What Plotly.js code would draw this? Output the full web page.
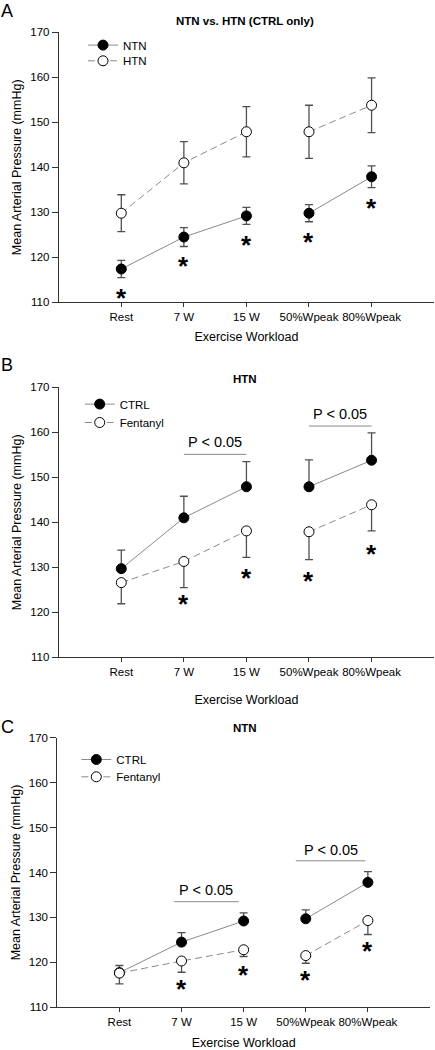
<!DOCTYPE html>
<html><head><meta charset="utf-8">
<script src="https://cdn.plot.ly/plotly-3.0.1.min.js"></script>
<style>html,body{margin:0;padding:0;background:#fff}#chart{width:435px;height:1050px}</style>
</head><body><div id="chart"></div>
<script>
// ---------- data ----------
const categories = ['Rest', '7 W', '15 W', '50%Wpeak', '80%Wpeak'];
const yTicks = [110, 120, 130, 140, 150, 160, 170];

// Panel A: NTN vs HTN (CTRL only)
const ntnCtrlA = [117.4, 124.5, 129.2, 129.8, 137.9];
const ntnCtrlAErr = [1.9, 2.1, 1.9, 1.9, 2.4];
const htnCtrlA = [129.8, 141.0, 147.9, 147.9, 153.8];
const htnCtrlAErr = [4.1, 4.7, 5.6, 5.9, 6.1];
const starsA = [112.4, 119.4, 124.0, 124.7, 132.4];

// Panel B: HTN, CTRL vs Fentanyl
const htnCtrlB = [129.7, 141.0, 147.9, 147.9, 153.8];
const htnCtrlBErr = [4.1, 4.8, 5.6, 6.0, 6.1];
const htnFentB = [126.6, 131.3, 138.1, 137.9, 143.9];
const htnFentBErr = [4.7, 5.8, 5.9, 6.2, 5.8];
const starsB = [null, 123.1, 129.0, 128.3, 134.4];
const sigB = [[1, 2, 155.1, 157.9], [3, 4, 161.4, 164.1]];

// Panel C: NTN, CTRL vs Fentanyl
const ntnCtrlC = [117.7, 124.5, 129.2, 129.7, 137.8];
const ntnCtrlCErr = [1.6, 2.1, 1.8, 2.0, 2.4];
const ntnFentC = [117.6, 120.3, 122.8, 121.5, 129.3];
const ntnFentCErr = [2.4, 2.5, 1.5, 1.7, 3.1];
const starsC = [null, 115.3, 118.5, 117.4, 123.8];
const sigC = [[0.88, 1.92, 133.5, 136.2], [2.84, 3.96, 142.6, 144.9]];

// ---------- styling ----------
const FONT = 'Liberation Sans, Arial, Helvetica, sans-serif';
const LINE_COLOR = '#8a8a8a';
const ERR_COLOR = '#505050';
const segments = [[0, 1, 2], [3, 4]];
const zeros = [0, 0, 0, 0, 0];

function series(mean, up, down, xa, ya, name, filled, dashed, legendId) {
  return segments.map((seg, k) => ({
    type: 'scatter', mode: 'lines+markers',
    x: seg, y: seg.map(i => mean[i]),
    xaxis: xa, yaxis: ya, name: name,
    legend: legendId, showlegend: k === 0,
    line: {color: LINE_COLOR, width: 1, dash: dashed ? '7px,4px' : 'solid'},
    marker: {size: 10, color: filled ? '#000' : '#fff', line: {color: '#000', width: 1}},
    error_y: {type: 'data', symmetric: false,
      array: seg.map(i => up[i]), arrayminus: seg.map(i => down[i]),
      color: ERR_COLOR, thickness: 1.3, width: 4},
    hoverinfo: 'x+y'
  }));
}

const traces = [].concat(
  series(ntnCtrlA, ntnCtrlAErr, ntnCtrlAErr, 'x', 'y', 'NTN', true, false, 'legend'),
  series(htnCtrlA, htnCtrlAErr, htnCtrlAErr, 'x', 'y', 'HTN', false, true, 'legend4'),
  series(htnCtrlB, htnCtrlBErr, zeros, 'x2', 'y2', 'CTRL', true, false, 'legend2'),
  series(htnFentB, zeros, htnFentBErr, 'x2', 'y2', 'Fentanyl', false, true, 'legend5'),
  series(ntnCtrlC, ntnCtrlCErr, zeros, 'x3', 'y3', 'CTRL', true, false, 'legend3'),
  series(ntnFentC, zeros, ntnFentCErr, 'x3', 'y3', 'Fentanyl', false, true, 'legend6')
);

function xAxis(domain, anchor, standoff) {
  return {domain: domain, anchor: anchor, range: [-1, 5], tickvals: [0, 1, 2, 3, 4],
    ticktext: categories, ticks: 'outside', ticklen: 4, tickcolor: '#333', tickwidth: 1,
    showline: true, linecolor: '#333', linewidth: 1, showgrid: false, zeroline: false,
    tickfont: {family: FONT, size: 11.5, color: '#000'},
    title: {text: 'Exercise Workload', font: {family: FONT, size: 12.5, color: '#000'}, standoff: standoff},
    automargin: false, fixedrange: true};
}
function yAxis(domain, anchor) {
  return {domain: domain, anchor: anchor, range: [110, 170], tickvals: yTicks,
    ticks: 'outside', ticklen: 6, tickcolor: '#333', tickwidth: 1,
    showline: true, linecolor: '#333', linewidth: 1, showgrid: false, zeroline: false,
    tickfont: {family: FONT, size: 11.5, color: '#000'},
    title: {text: 'Mean Arterial Pressure (mmHg)', font: {family: FONT, size: 12.5, color: '#000'}, standoff: 5},
    automargin: false, fixedrange: true};
}

const annotations = [];
const shapes = [];
function addStars(stars, xa, ya) {
  stars.forEach((v, i) => {
    if (v === null) return;
    annotations.push({xref: xa, yref: ya, x: i, y: v, text: '<b>*</b>', showarrow: false,
      font: {family: FONT, size: 26, color: '#000'}, yanchor: 'middle', yshift: -6});
  });
}
function addSig(sig, xa, ya) {
  sig.forEach(s => {
    shapes.push({type: 'line', xref: xa, yref: ya, x0: s[0], x1: s[1], y0: s[2], y1: s[2],
      line: {color: LINE_COLOR, width: 1}});
    annotations.push({xref: xa, yref: ya, x: (s[0] + s[1]) / 2, y: s[3], text: 'P < 0.05',
      showarrow: false, font: {family: FONT, size: 14.5, color: '#000'}, yanchor: 'middle'});
  });
}
addStars(starsA, 'x', 'y');
addStars(starsB, 'x2', 'y2');
addStars(starsC, 'x3', 'y3');
addSig(sigB, 'x2', 'y2');
addSig(sigC, 'x3', 'y3');

function paperText(text, px, py, size, bold) {
  annotations.push({xref: 'paper', yref: 'paper', x: px / 435, y: 1 - py / 1050,
    text: bold ? '<b>' + text + '</b>' : text, showarrow: false,
    xanchor: 'center', yanchor: 'middle', font: {family: FONT, size: size, color: '#000'}});
}
paperText('NTN vs. HTN (CTRL only)', 245, 21, 11.5, true);
paperText('HTN', 245, 379, 11.5, true);
paperText('NTN', 245, 728, 11.5, true);
paperText('A', 7, 11, 18, false);
paperText('B', 7, 365, 18, false);
paperText('C', 7, 727, 18, false);

function legend(mx, my) {
  return {x: (mx - 21) / 435, y: 1 - (my - 12.7) / 1050, xanchor: 'left', yanchor: 'top',
    bgcolor: 'rgba(0,0,0,0)', borderwidth: 0,
    font: {family: FONT, size: 11.5, color: '#000'}};
}

const layout = {
  width: 435, height: 1050, margin: {l: 0, r: 0, t: 0, b: 0},
  paper_bgcolor: '#fff', plot_bgcolor: '#fff', showlegend: true,
  font: {family: FONT, color: '#000'},
  xaxis: xAxis([0.135, 0.998], 'y', 9.5), yaxis: yAxis([0.7121, 0.9692], 'x'),
  xaxis2: xAxis([0.135, 0.998], 'y2', 18), yaxis2: yAxis([0.374, 0.6311], 'x2'),
  xaxis3: xAxis([0.1317, 0.9885], 'y3', 13), yaxis3: yAxis([0.0407, 0.2974], 'x3'),
  legend: legend(104, 43.3), legend4: legend(104, 59),
  legend2: legend(100.7, 402.3), legend5: legend(100.7, 420.7),
  legend3: legend(97.3, 757.7), legend6: legend(97.3, 775),
  annotations: annotations, shapes: shapes
};

Plotly.newPlot('chart', traces, layout, {displayModeBar: false, staticPlot: true});
</script></body></html>
